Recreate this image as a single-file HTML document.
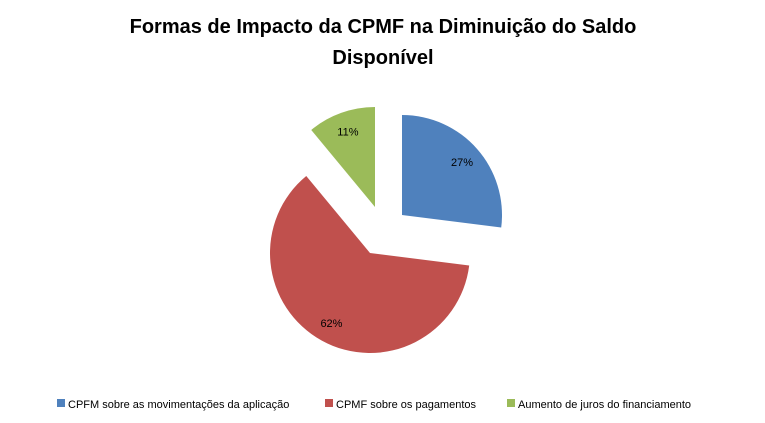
<!DOCTYPE html>
<html><head><meta charset="utf-8"><style>
body{margin:0;background:#fff;font-family:"Liberation Sans",sans-serif}
#c{width:765px;height:423px;position:relative;overflow:hidden}
</style></head><body>
<div id="c">
<svg width="765" height="423">
<text x="383" y="33" text-anchor="middle" font-size="20" font-weight="bold" fill="#000">Formas de Impacto da CPMF na Diminuição do Saldo</text>
<text x="383" y="64" text-anchor="middle" font-size="20" font-weight="bold" fill="#000">Disponível</text>
<g id="pie"></g>
<g id="legend"></g>
</svg>
</div>
<script>
const categories=["CPFM sobre as movimentações da aplicação","CPMF sobre os pagamentos","Aumento de juros do financiamento"];
const values=[27,62,11];
const labels=["27%","62%","11%"];
const colors=["#4f81bd","#c0504d","#9bbb59"];
const centers=[[402,215],[370,253],[375,207]];
const ns="http://www.w3.org/2000/svg";
const pie=document.getElementById('pie');
const total=values.reduce((a,b)=>a+b,0);
const r=100;
let a0=0;
function pt(c,ang,rad){return [c[0]+rad*Math.sin(ang),c[1]-rad*Math.cos(ang)];}
values.forEach((v,i)=>{
  const a1=a0+v/total*2*Math.PI;
  const c=centers[i];
  const p0=pt(c,a0,r),p1=pt(c,a1,r);
  const large=(a1-a0)>Math.PI?1:0;
  const path=document.createElementNS(ns,'path');
  path.setAttribute('d',`M${c[0]},${c[1]} L${p0[0]},${p0[1]} A${r},${r} 0 ${large} 1 ${p1[0]},${p1[1]} Z`);
  path.setAttribute('fill',colors[i]);
  
  
  pie.appendChild(path);
  const m=(a0+a1)/2;const lp=pt(c,m,80);
  const t=document.createElementNS(ns,'text');
  t.setAttribute('x',lp[0]);t.setAttribute('y',lp[1]+4);
  t.setAttribute('text-anchor','middle');t.setAttribute('font-size','11');
  t.textContent=labels[i];
  
  
  pie.appendChild(t);
  a0=a1;
});
const lg=document.getElementById('legend');
const lx=[57,325,507];
categories.forEach((n,i)=>{
  const g=document.createElementNS(ns,'g');
  
  
  const s=document.createElementNS(ns,'rect');
  s.setAttribute('x',lx[i]);s.setAttribute('y',399);s.setAttribute('width',8);s.setAttribute('height',8);
  s.setAttribute('fill',colors[i]);
  g.appendChild(s);
  const t=document.createElementNS(ns,'text');
  t.setAttribute('x',lx[i]+11);t.setAttribute('y',408);t.setAttribute('font-size','11');
  t.textContent=n;g.appendChild(t);
  lg.appendChild(g);
});
</script>
</body></html>
